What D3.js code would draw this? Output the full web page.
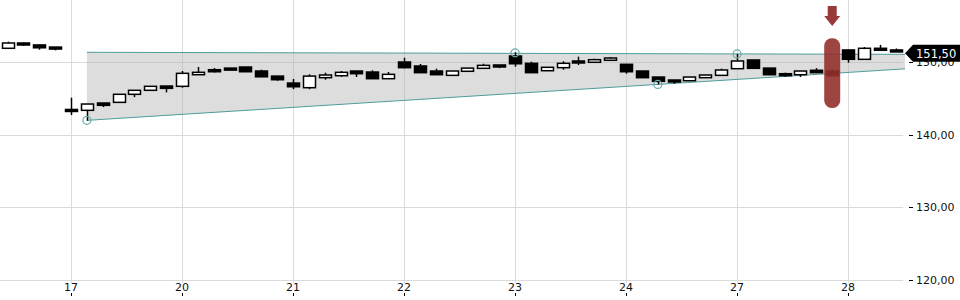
<!DOCTYPE html>
<html>
<head>
<meta charset="utf-8">
<script src="https://cdn.jsdelivr.net/npm/d3@7"></script>
<style>
  body { margin: 0; background: #fff; }
  svg { display: block; font-family: "DejaVu Sans", sans-serif; }
</style>
</head>
<body>
<div id="chart"></div>
<script>
// DATA //
// hourly candles, 7 per trading day
const opens  = [151.93, 152.66, 152.39, 152.10, 143.50, 143.38, 144.39, 144.48, 145.59, 146.14,
                146.73, 146.69, 148.29, 148.98, 149.20, 149.35, 148.80, 148.10, 147.14, 146.50,
                147.88, 148.15, 148.80, 148.66, 147.74, 150.04, 149.49, 148.80, 148.20, 148.76,
                149.17, 149.63, 150.87, 149.86, 148.84, 149.26, 150.18, 150.00, 150.28, 149.72,
                148.80, 147.97, 147.56, 147.46, 147.88, 148.20, 149.12, 150.32, 149.20, 148.43,
                148.29, 148.90, 148.80, 151.70, 150.41, 151.93, 151.70]
const highs  = [152.84, 152.70, 152.45, 152.10, 145.12, 144.25, 144.40, 145.59, 146.14, 146.69,
                146.73, 148.80, 149.35, 149.20, 149.20, 149.35, 148.98, 148.10, 147.70, 148.34,
                148.57, 148.80, 148.80, 148.90, 148.66, 150.63, 149.77, 149.12, 148.80, 149.20,
                149.80, 149.63, 151.40, 150.08, 149.31, 150.14, 150.77, 150.50, 150.73, 149.72,
                148.80, 147.97, 147.56, 147.97, 148.25, 149.12, 151.14, 150.32, 149.20, 148.57,
                148.80, 149.20, 149.00, 151.70, 152.10, 152.40, 151.90]
const lows   = [151.93, 152.25, 151.74, 151.65, 142.73, 141.95, 143.83, 144.48, 145.20, 146.14,
                145.86, 146.50, 148.29, 148.60, 148.98, 148.70, 148.00, 147.46, 146.30, 146.30,
                147.60, 148.00, 147.97, 147.74, 147.74, 149.17, 148.57, 148.29, 148.20, 148.76,
                149.17, 149.20, 149.40, 148.57, 148.84, 148.98, 149.63, 150.00, 150.28, 148.43,
                147.88, 146.95, 147.05, 147.46, 147.88, 148.20, 149.12, 149.17, 148.29, 148.00,
                147.97, 148.57, 148.15, 149.95, 150.41, 151.70, 151.46]
const closes = [152.66, 152.39, 152.00, 151.83, 143.40, 144.25, 144.07, 145.59, 146.14, 146.69,
                146.41, 148.48, 148.62, 148.70, 148.98, 148.70, 148.00, 147.60, 146.63, 148.10,
                148.25, 148.62, 148.43, 147.74, 148.34, 149.26, 148.57, 148.29, 148.80, 149.20,
                149.58, 149.40, 149.80, 148.57, 149.31, 149.86, 149.95, 150.36, 150.59, 148.70,
                147.88, 147.38, 147.32, 147.97, 148.25, 148.94, 150.18, 149.17, 148.29, 148.20,
                148.80, 148.57, 148.15, 150.41, 151.93, 151.70, 151.50]

// day labels and index of first candle of each day
const dayLabels = ["17", "20", "21", "22", "23", "24", "27", "28"]
const dayStart  = [4, 11, 18, 25, 32, 39, 46, 53]

const yTicks = [120, 130, 140, 150]

// trend channel: [start index, end index] and prices at those ends
const channelIdx   = [5, 56.59]
const channelUpper = [151.38, 151.10]
const channelLower = [142.00, 149.10]
// touch points (candle index, price)
const touchIdx   = [5, 32, 41, 46]
const touchPrice = [142.00, 151.30, 146.95, 151.15]

// signal candle
const signalIdx = 52
const signalTop = 153.3
const signalBottom = 143.7

// SETUP //
const width = 960
const height = 300
const plotRight = 905
const plotBottom = 283

const fmt = d3.formatLocale({decimal: ",", thousands: ".", grouping: [3], currency: ["", ""]}).format(".2f")

const candles = opens.map((o, i) => ({
    i: i, open: o, high: highs[i], low: lows[i], close: closes[i]
}))

const xScale = d3.scaleLinear()
    .domain([-0.48, 56.59])
    .range([0, plotRight])

const yScale = d3.scaleLinear()
    .domain([120, 150])
    .range([280, 62.3])

const svg = d3.select("#chart")
    .append("svg")
    .attr("width", width)
    .attr("height", height)

// grid
svg.append("g")
    .selectAll("line")
    .data(yTicks)
    .join("line")
    .attr("x1", 0)
    .attr("x2", plotRight - 2)
    .attr("y1", d => Math.round(yScale(d)) + 0.5)
    .attr("y2", d => Math.round(yScale(d)) + 0.5)
    .attr("stroke", "#dadada")

svg.append("g")
    .selectAll("line")
    .data(dayStart)
    .join("line")
    .attr("x1", d => Math.round(xScale(d)) + 0.5)
    .attr("x2", d => Math.round(xScale(d)) + 0.5)
    .attr("y1", 0)
    .attr("y2", plotBottom)
    .attr("stroke", "#dadada")

// channel
const channelPts = [
    [xScale(channelIdx[0]), yScale(channelUpper[0])],
    [xScale(channelIdx[1]), yScale(channelUpper[1])],
    [xScale(channelIdx[1]), yScale(channelLower[1])],
    [xScale(channelIdx[0]), yScale(channelLower[0])],
]
svg.append("polygon")
    .attr("points", channelPts.map(p => p.join(",")).join(" "))
    .attr("fill", "#b4b4b4")
    .attr("opacity", 0.45)

const channelColor = "#4f9c9c"
svg.append("line")
    .attr("x1", channelPts[0][0]).attr("y1", channelPts[0][1])
    .attr("x2", channelPts[1][0]).attr("y2", channelPts[1][1])
    .attr("stroke", channelColor)
    .attr("stroke-width", 1)
svg.append("line")
    .attr("x1", channelPts[3][0]).attr("y1", channelPts[3][1])
    .attr("x2", channelPts[2][0]).attr("y2", channelPts[2][1])
    .attr("stroke", channelColor)
    .attr("stroke-width", 1)

// candles
const bodyW = 12
const candleG = svg.append("g")

candleG.selectAll(".wick")
    .data(candles)
    .join("line")
    .attr("class", "wick")
    .attr("x1", d => Math.round(xScale(d.i)) + 0.5)
    .attr("x2", d => Math.round(xScale(d.i)) + 0.5)
    .attr("y1", d => yScale(d.high))
    .attr("y2", d => yScale(d.low))
    .attr("stroke", "#000")
    .attr("stroke-width", 1.5)

candleG.selectAll(".body")
    .data(candles)
    .join("rect")
    .attr("class", "body")
    .attr("x", d => Math.round(xScale(d.i)) + 0.5 - bodyW / 2)
    .attr("y", d => yScale(Math.max(d.open, d.close)))
    .attr("width", bodyW)
    .attr("height", d => Math.max(2, yScale(Math.min(d.open, d.close)) - yScale(Math.max(d.open, d.close))))
    .attr("fill", d => d.close >= d.open ? "#fff" : "#000")
    .attr("stroke", "#000")
    .attr("stroke-width", 1.5)

// touch circles
svg.append("g")
    .selectAll("circle")
    .data(touchIdx)
    .join("circle")
    .attr("cx", d => xScale(d))
    .attr("cy", (d, k) => yScale(touchPrice[k]))
    .attr("r", 4)
    .attr("fill", "none")
    .attr("stroke", "#6aabab")
    .attr("stroke-width", 1.2)

// signal marker
const sx = xScale(signalIdx)
const red = "#93302c"
svg.append("rect")
    .attr("x", sx - 8)
    .attr("y", yScale(signalTop))
    .attr("width", 16)
    .attr("height", yScale(signalBottom) - yScale(signalTop))
    .attr("rx", 7.5)
    .attr("fill", red)
    .attr("opacity", 0.9)

svg.append("path")
    .attr("d", `M${sx - 4.5},6 H${sx + 4.5} V16 H${sx + 8} L${sx},26 L${sx - 8},16 H${sx - 4.5} Z`)
    .attr("fill", "#983a37")

// y axis
const yAxisG = svg.append("g")
yAxisG.selectAll("line")
    .data(yTicks)
    .join("line")
    .attr("x1", plotRight + 4)
    .attr("x2", plotRight + 8)
    .attr("y1", d => Math.round(yScale(d)) + 0.5)
    .attr("y2", d => Math.round(yScale(d)) + 0.5)
    .attr("stroke", "#000")
yAxisG.selectAll("text")
    .data(yTicks)
    .join("text")
    .attr("x", plotRight + 11)
    .attr("y", d => yScale(d) + 4)
    .attr("font-size", 11)
    .attr("fill", "#111")
    .text(d => fmt(d))

// x axis
const xAxisG = svg.append("g")
xAxisG.selectAll("text")
    .data(dayStart)
    .join("text")
    .attr("x", d => xScale(d))
    .attr("y", 291)
    .attr("text-anchor", "middle")
    .attr("font-size", 11)
    .attr("fill", "#111")
    .text((d, k) => dayLabels[k])
xAxisG.selectAll("line")
    .data(dayStart)
    .join("line")
    .attr("x1", d => Math.round(xScale(d)) + 0.5)
    .attr("x2", d => Math.round(xScale(d)) + 0.5)
    .attr("y1", 293)
    .attr("y2", 296)
    .attr("stroke", "#000")

// last price tag (drawn over the 150,00 label, as in the source)
const lastPrice = closes[closes.length - 1]
const ty = yScale(lastPrice) + 1.8
svg.append("path")
    .attr("d", `M${plotRight},${ty} L${plotRight + 8},${ty - 8.5} H${width} V${ty + 8.5} H${plotRight + 8} Z`)
    .attr("fill", "#000")
svg.append("text")
    .attr("x", plotRight + 11)
    .attr("y", ty + 4.5)
    .attr("font-size", 11.5)
    .attr("fill", "#fff")
    .text(fmt(lastPrice))
</script>
</body>
</html>
